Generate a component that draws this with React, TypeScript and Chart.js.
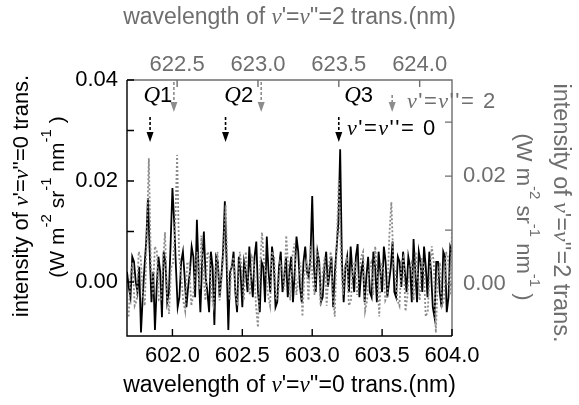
import React, { useEffect, useRef } from 'react';
import { Chart, registerables } from 'chart.js';
Chart.register(...registerables);

// v'=v''=0 transition (black, bottom/left axes)
const wl0 = [
  601.675, 601.6875, 601.7, 601.7125, 601.725, 601.7375, 601.75, 601.7625, 601.775, 601.7875,
  601.8, 601.8125, 601.825, 601.8375, 601.85, 601.8625, 601.875, 601.8875, 601.9, 601.9125,
  601.925, 601.9375, 601.95, 601.9625, 601.975, 601.9875, 602.0, 602.0125, 602.025, 602.0375,
  602.05, 602.0625, 602.075, 602.0875, 602.1, 602.1125, 602.125, 602.1375, 602.15, 602.1625,
  602.175, 602.1875, 602.2, 602.2125, 602.225, 602.2375, 602.25, 602.2625, 602.275, 602.2875,
  602.3, 602.3125, 602.325, 602.3375, 602.35, 602.3625, 602.375, 602.3875, 602.4, 602.4125,
  602.425, 602.4375, 602.45, 602.4625, 602.475, 602.4875, 602.5, 602.5125, 602.525, 602.5375,
  602.55, 602.5625, 602.575, 602.5875, 602.6, 602.6125, 602.625, 602.6375, 602.65, 602.6625,
  602.675, 602.6875, 602.7, 602.7125, 602.725, 602.7375, 602.75, 602.7625, 602.775, 602.7875,
  602.8, 602.8125, 602.825, 602.8375, 602.85, 602.8625, 602.875, 602.8875, 602.9, 602.9125,
  602.925, 602.9375, 602.95, 602.9625, 602.975, 602.9875, 603.0, 603.0125, 603.025, 603.0375,
  603.05, 603.0625, 603.075, 603.0875, 603.1, 603.1125, 603.125, 603.1375, 603.15, 603.1625,
  603.175, 603.1875, 603.2, 603.2125, 603.225, 603.2375, 603.25, 603.2625, 603.275, 603.2875,
  603.3, 603.3125, 603.325, 603.3375, 603.35, 603.3625, 603.375, 603.3875, 603.4, 603.4125,
  603.425, 603.4375, 603.45, 603.4625, 603.475, 603.4875, 603.5, 603.5125, 603.525, 603.5375,
  603.55, 603.5625, 603.575, 603.5875, 603.6, 603.6125, 603.625, 603.6375, 603.65, 603.6625,
  603.675, 603.6875, 603.7, 603.7125, 603.725, 603.7375, 603.75, 603.7625, 603.775, 603.7875,
  603.8, 603.8125, 603.825, 603.8375, 603.85, 603.8625, 603.875, 603.8875, 603.9, 603.9125,
  603.925, 603.9375, 603.95, 603.9625, 603.975, 603.9875, 604.0,
];
const int0 = [
  0.002, -0.001, -0.003, 0.005, 0.004, 0.0, -0.002, 0.003, -0.010, -0.003,
  0.003, 0.008, 0.0166, 0.006, -0.004, 0.002, -0.0095, -0.001, 0.005, 0.002,
  -0.007, 0.006, 0.004, -0.004, -0.002, 0.008, 0.0186, 0.012, 0.003, -0.005,
  -0.003, 0.004, 0.006, 0.001, -0.005, -0.001, 0.002, 0.007, 0.005, -0.003,
  0.0123, 0.002, -0.006, 0.004, 0.010, 0.001, -0.002, -0.006, 0.006, 0.003,
  -0.0085, 0.005, 0.004, -0.003, 0.001, 0.006, 0.016, 0.004, -0.0095, 0.002,
  0.003, 0.006, -0.002, -0.006, 0.005, 0.002, -0.005, 0.004, 0.002, -0.002,
  0.007, 0.001, -0.003, 0.005, 0.008, -0.002, -0.006, 0.004, 0.003, -0.004,
  0.009, 0.002, -0.002, 0.007, 0.004, -0.005, -0.004, 0.003, 0.006, -0.002,
  0.001, 0.005, -0.003, 0.002, 0.005, -0.004, 0.002, 0.009, 0.006, -0.001,
  -0.004, 0.004, 0.007, 0.002, 0.001, 0.005, 0.017, 0.003, -0.002, 0.006,
  0.004, -0.004, -0.003, 0.003, 0.006, -0.001, 0.002, 0.005, -0.005, 0.002,
  0.007, 0.012, 0.0263, 0.004, -0.004, 0.003, 0.005, -0.002, 0.007, 0.002,
  -0.002, 0.005, 0.0075, -0.003, 0.002, 0.004, -0.004, 0.001, 0.005, -0.002,
  -0.003, 0.006, 0.003, -0.004, 0.006, 0.002, -0.002, 0.007, 0.004, -0.003,
  0.0, 0.003, 0.008, -0.002, -0.003, 0.005, 0.004, -0.001, 0.006, 0.002,
  -0.002, 0.005, 0.003, -0.004, 0.0085, 0.002, -0.004, 0.006, 0.004, -0.002,
  0.007, 0.003, -0.003, 0.006, 0.002, -0.005, -0.007, 0.004, 0.004, -0.002,
  -0.005, 0.006, 0.005, -0.006, -0.003, 0.007, 0.006,
];

// v'=v''=2 transition (gray dotted, top/right axes)
const wl2 = [
  622.2, 622.2125, 622.225, 622.2375, 622.25, 622.2625, 622.275, 622.2875, 622.3, 622.3125,
  622.325, 622.3375, 622.35, 622.3625, 622.375, 622.3875, 622.4, 622.4125, 622.425, 622.4375,
  622.45, 622.4625, 622.475, 622.4875, 622.5, 622.5125, 622.525, 622.5375, 622.55, 622.5625,
  622.575, 622.5875, 622.6, 622.6125, 622.625, 622.6375, 622.65, 622.6625, 622.675, 622.6875,
  622.7, 622.7125, 622.725, 622.7375, 622.75, 622.7625, 622.775, 622.7875, 622.8, 622.8125,
  622.825, 622.8375, 622.85, 622.8625, 622.875, 622.8875, 622.9, 622.9125, 622.925, 622.9375,
  622.95, 622.9625, 622.975, 622.9875, 623.0, 623.0125, 623.025, 623.0375, 623.05, 623.0625,
  623.075, 623.0875, 623.1, 623.1125, 623.125, 623.1375, 623.15, 623.1625, 623.175, 623.1875,
  623.2, 623.2125, 623.225, 623.2375, 623.25, 623.2625, 623.275, 623.2875, 623.3, 623.3125,
  623.325, 623.3375, 623.35, 623.3625, 623.375, 623.3875, 623.4, 623.4125, 623.425, 623.4375,
  623.45, 623.4625, 623.475, 623.4875, 623.5, 623.5125, 623.525, 623.5375, 623.55, 623.5625,
  623.575, 623.5875, 623.6, 623.6125, 623.625, 623.6375, 623.65, 623.6625, 623.675, 623.6875,
  623.7, 623.7125, 623.725, 623.7375, 623.75, 623.7625, 623.775, 623.7875, 623.8, 623.8125,
  623.825, 623.8375, 623.85, 623.8625, 623.875, 623.8875, 623.9, 623.9125, 623.925, 623.9375,
  623.95, 623.9625, 623.975, 623.9875, 624.0, 624.0125, 624.025, 624.0375, 624.05, 624.0625,
  624.075, 624.0875, 624.1, 624.1125, 624.125, 624.1375, 624.15, 624.1625, 624.175, 624.1875,
  624.2,
];
const int2 = [
  -0.006, 0.002, 0.004, -0.004, -0.003, 0.006, 0.005, -0.002, -0.004, 0.009,
  0.0233, 0.004, -0.002, 0.007, 0.006, -0.003, -0.003, 0.004, 0.0096, -0.002,
  -0.0055, 0.003, 0.004, 0.010, 0.0239, 0.005, 0.002, -0.003, -0.005, 0.004,
  0.004, -0.004, -0.002, 0.003, 0.006, -0.001, 0.009, 0.002, -0.003, 0.006,
  0.005, -0.002, -0.004, 0.003, 0.006, -0.003, 0.001, 0.006, 0.0146, 0.002,
  -0.003, 0.004, 0.005, -0.002, -0.004, 0.006, 0.003, -0.003, 0.006, 0.001,
  -0.002, 0.005, 0.004, -0.004, -0.008, 0.003, 0.0096, 0.004, 0.002, -0.002,
  -0.004, 0.006, 0.005, -0.003, -0.002, 0.004, 0.003, -0.001, 0.009, 0.003,
  -0.003, 0.005, 0.0075, -0.002, 0.001, 0.004, -0.006, 0.002, 0.004, -0.003,
  0.007, 0.001, -0.002, 0.006, 0.005, -0.004, 0.002, 0.005, -0.004, 0.003,
  0.006, -0.002, -0.006, 0.008, 0.0193, 0.006, -0.002, 0.003, 0.005, -0.004,
  -0.003, 0.004, 0.004, -0.002, 0.001, 0.005, 0.006, -0.005, -0.003, 0.003,
  0.004, -0.002, 0.007, 0.002, -0.006, 0.004, 0.003, -0.003, -0.002, 0.009,
  0.0152, 0.004, 0.002, -0.003, -0.004, 0.004, 0.005, -0.005, -0.002, 0.003,
  0.004, -0.003, 0.006, 0.002, -0.003, 0.005, 0.003, -0.006, -0.005, 0.002,
  0.007, 0.004, -0.009, 0.001, 0.004, -0.004, -0.003, 0.006, 0.005, -0.002,
  0.0096,
];

const bottomTicks = [602.0, 602.5, 603.0, 603.5, 604.0];
const topTicks = [622.5, 623.0, 623.5, 624.0];
const leftMajor = [0, 0.02, 0.04];
const leftMinor = [0.01, 0.03];
const rightMajor = [0, 0.02];
const rightMinor = [0.01, 0.03];

const qNames = ['1', '2', '3'];
const qLabelPos0 = [601.793, 602.371, 603.229];
const qArrow0 = [601.84, 602.38, 603.19];
const qArrow2 = [622.48, 623.02, 623.83];

const SANS = "'Liberation Sans', Arial, sans-serif";
const SERIF = "'Liberation Serif', 'Times New Roman', serif";
const GRAY_TXT = '#6e6e6e';
const GRAY_LINE = '#8c8c8c';

type Seg = { t: string; f: string; dy?: number };

function richWidth(ctx: CanvasRenderingContext2D, segs: Seg[]) {
  let w = 0;
  for (const s of segs) {
    ctx.font = s.f;
    w += ctx.measureText(s.t).width;
  }
  return w;
}

function drawRich(
  ctx: CanvasRenderingContext2D,
  segs: Seg[],
  x: number,
  y: number,
  rot: number,
  color: string,
  align: 'center' | 'left',
  spacing = 0
) {
  ctx.save();
  ctx.translate(x, y);
  ctx.rotate(rot);
  ctx.fillStyle = color;
  ctx.textBaseline = 'middle';
  ctx.textAlign = 'left';
  (ctx as any).letterSpacing = spacing + 'px';
  const w = richWidth(ctx, segs);
  let cx = align === 'center' ? -w / 2 : 0;
  for (const s of segs) {
    ctx.font = s.f;
    ctx.fillText(s.t, cx, s.dy || 0);
    cx += ctx.measureText(s.t).width;
  }
  ctx.restore();
}

function drawArrow(ctx: CanvasRenderingContext2D, x: number, y0: number, y1: number, color: string) {
  ctx.save();
  ctx.strokeStyle = color;
  ctx.fillStyle = color;
  ctx.lineWidth = 1.6;
  ctx.setLineDash([3, 2]);
  ctx.beginPath();
  ctx.moveTo(x, y0);
  ctx.lineTo(x, y1 - 9);
  ctx.stroke();
  ctx.setLineDash([]);
  ctx.beginPath();
  ctx.moveTo(x - 3.5, y1 - 10);
  ctx.lineTo(x + 3.5, y1 - 10);
  ctx.lineTo(x, y1);
  ctx.closePath();
  ctx.fill();
  ctx.restore();
}

const decorPlugin = {
  id: 'decor',
  afterDatasetsDraw(chart: any) {
    const ctx: CanvasRenderingContext2D = chart.ctx;
    const { left, right, top, bottom } = chart.chartArea;
    const sx = chart.scales.x;
    const sx2 = chart.scales.x2;
    const sy = chart.scales.y;
    const sy2 = chart.scales.y2;
    ctx.save();
    // frame
    ctx.lineWidth = 1.4;
    ctx.strokeStyle = GRAY_TXT;
    ctx.beginPath();
    ctx.moveTo(left, top);
    ctx.lineTo(right, top);
    ctx.lineTo(right, bottom);
    ctx.stroke();
    ctx.strokeStyle = '#000';
    ctx.beginPath();
    ctx.moveTo(left, top);
    ctx.lineTo(left, bottom);
    ctx.lineTo(right, bottom);
    ctx.stroke();
    // inward ticks
    const TL = 7;
    ctx.strokeStyle = '#000';
    ctx.beginPath();
    for (const v of bottomTicks) {
      const x = sx.getPixelForValue(v);
      ctx.moveTo(x, bottom);
      ctx.lineTo(x, bottom - TL);
    }
    for (const v of [...leftMajor, ...leftMinor]) {
      const y = sy.getPixelForValue(v);
      ctx.moveTo(left, y);
      ctx.lineTo(left + TL, y);
    }
    ctx.stroke();
    ctx.strokeStyle = GRAY_TXT;
    ctx.beginPath();
    for (const v of topTicks) {
      const x = sx2.getPixelForValue(v);
      ctx.moveTo(x, top);
      ctx.lineTo(x, top + TL);
    }
    for (const v of [...rightMajor, ...rightMinor]) {
      const y = sy2.getPixelForValue(v);
      ctx.moveTo(right, y);
      ctx.lineTo(right - TL, y);
    }
    ctx.stroke();

    // arrows
    qArrow0.forEach((v) => drawArrow(ctx, sx.getPixelForValue(v), top + 37, top + 62, '#000'));
    qArrow2.forEach((v, i) => drawArrow(ctx, sx2.getPixelForValue(v), top + (i === 2 ? 15 : 2), top + 32, GRAY_LINE));

    // Q labels
    qNames.forEach((n, i) => {
      const x = sx.getPixelForValue(qLabelPos0[i]);
      drawRich(ctx, [
        { t: 'Q', f: `italic 23px ${SERIF}` },
        { t: n, f: `22px ${SANS}` },
      ], x, top + 16, 0, '#000', 'left');
    });

    const vi = `italic 22px ${SERIF}`;
    const s22 = `22px ${SANS}`;
    drawRich(ctx, [
      { t: 'v', f: vi }, { t: "'=", f: s22 }, { t: 'v', f: vi }, { t: "''= 0", f: s22 },
    ], 347, top + 49, 0, '#000', 'left', 1.5);
    drawRich(ctx, [
      { t: 'v', f: vi }, { t: "'=", f: s22 }, { t: 'v', f: vi }, { t: "''= 2", f: s22 },
    ], 407, top + 22, 0, GRAY_TXT, 'left', 1.5);
    ctx.restore();
  },
  afterDraw(chart: any) {
    const ctx: CanvasRenderingContext2D = chart.ctx;
    const { left, right, bottom } = chart.chartArea;
    const cx = (left + right) / 2;
    const f = `23px ${SANS}`;
    const fi = `italic 23px ${SERIF}`;
    // bottom title
    drawRich(ctx, [
      { t: 'wavelength of ', f }, { t: 'v', f: fi }, { t: "'=", f }, { t: 'v', f: fi }, { t: "''=0 trans.(nm)", f },
    ], cx, bottom + 50, 0, '#000', 'center');
    // top title
    drawRich(ctx, [
      { t: 'wavelength of ', f }, { t: 'v', f: fi }, { t: "'=", f }, { t: 'v', f: fi }, { t: "''=2 trans.(nm)", f },
    ], cx, 18, 0, GRAY_TXT, 'center');
    // left title
    const fl = `22px ${SANS}`;
    const fli = `italic 22px ${SERIF}`;
    drawRich(ctx, [
      { t: 'intensity of ', f: fl }, { t: 'v', f: fli }, { t: "'=", f: fl }, { t: 'v', f: fli }, { t: "''=0 trans.", f: fl },
    ], 22, 196, -Math.PI / 2, '#000', 'center');
    const fu = `21px ${SANS}`;
    const fs = `15px ${SANS}`;
    const unitSegs: Seg[] = [
      { t: '(W m', f: fu }, { t: '-2', f: fs, dy: -11 }, { t: ' sr', f: fu }, { t: '-1', f: fs, dy: -11 },
      { t: ' nm', f: fu }, { t: '-1', f: fs, dy: -11 }, { t: ' )', f: fu },
    ];
    drawRich(ctx, unitSegs, 58, 197, -Math.PI / 2, '#000', 'center');
    // right title
    const fr = `23.5px ${SANS}`;
    const fri = `italic 23.5px ${SERIF}`;
    drawRich(ctx, [
      { t: 'intensity of ', f: fr }, { t: 'v', f: fri }, { t: "'=", f: fr }, { t: 'v', f: fri }, { t: "''=2 trans.", f: fr },
    ], 560, 213, Math.PI / 2, GRAY_TXT, 'center');
    const fu2 = `22px ${SANS}`;
    const unitSegs2: Seg[] = [
      { t: '(W m', f: fu2 }, { t: '-2', f: fs, dy: -11 }, { t: ' sr', f: fu2 }, { t: '-1', f: fs, dy: -11 },
      { t: ' nm', f: fu2 }, { t: '-1', f: fs, dy: -11 }, { t: ' )', f: fu2 },
    ];
    drawRich(ctx, unitSegs2, 523, 217, Math.PI / 2, GRAY_TXT, 'center');
  },
};

export default function App() {
  const ref = useRef<HTMLCanvasElement>(null);
  useEffect(() => {
    if (!ref.current) return;
    const tickFont = { family: SANS, size: 22 };
    const chart = new Chart(ref.current, {
      type: 'line',
      data: {
        datasets: [
          {
            label: "v'=v''=2",
            data: wl2.map((x, i) => ({ x, y: int2[i] })),
            xAxisID: 'x2',
            yAxisID: 'y2',
            borderColor: GRAY_LINE,
            borderWidth: 1.8,
            borderDash: [2, 2],
            pointRadius: 0,
            tension: 0,
            fill: false,
          },
          {
            label: "v'=v''=0",
            data: wl0.map((x, i) => ({ x, y: int0[i] })),
            xAxisID: 'x',
            yAxisID: 'y',
            borderColor: '#000',
            borderWidth: 1.8,
            pointRadius: 0,
            tension: 0,
            fill: false,
          },
        ],
      },
      options: {
        animation: false,
        responsive: false,
        layout: { padding: 0 },
        plugins: { legend: { display: false }, tooltip: { enabled: false } },
        scales: {
          x: {
            type: 'linear',
            position: 'bottom',
            min: 601.675,
            max: 604.0,
            grid: { display: false, drawTicks: false },
            border: { display: false },
            afterBuildTicks: (s: any) => { s.ticks = bottomTicks.map((value) => ({ value })); },
            afterFit: (s: any) => { s.height = 69; },
            ticks: { font: tickFont, color: '#000', padding: 7, maxRotation: 0, autoSkip: false, callback: (v: any) => Number(v).toFixed(1) },
          },
          x2: {
            type: 'linear',
            position: 'top',
            min: 622.19,
            max: 624.2,
            grid: { display: false, drawTicks: false },
            border: { display: false },
            afterBuildTicks: (s: any) => { s.ticks = topTicks.map((value) => ({ value })); },
            afterFit: (s: any) => { s.height = 80; },
            ticks: { font: tickFont, color: GRAY_TXT, padding: 2, maxRotation: 0, autoSkip: false, callback: (v: any) => Number(v).toFixed(1) },
          },
          y: {
            type: 'linear',
            position: 'left',
            min: -0.0107,
            max: 0.04,
            grid: { display: false, drawTicks: false },
            border: { display: false },
            afterBuildTicks: (s: any) => { s.ticks = leftMajor.map((value) => ({ value })); },
            afterFit: (s: any) => { s.width = 127; },
            ticks: { font: tickFont, color: '#000', padding: 9, autoSkip: false, callback: (v: any) => Number(v).toFixed(2) },
          },
          y2: {
            type: 'linear',
            position: 'right',
            min: -0.0096,
            max: 0.0378,
            grid: { display: false, drawTicks: false },
            border: { display: false },
            afterBuildTicks: (s: any) => { s.ticks = rightMajor.map((value) => ({ value })); },
            afterFit: (s: any) => { s.width = 127; },
            ticks: { font: tickFont, color: GRAY_TXT, padding: 11, autoSkip: false, callback: (v: any) => Number(v).toFixed(2) },
          },
        },
      } as any,
      plugins: [decorPlugin],
    });
    return () => chart.destroy();
  }, []);
  return (
    <div style={{ position: 'fixed', left: 0, top: 0, width: 579, height: 405, background: '#fff' }}>
      <canvas ref={ref} width={579} height={405} style={{ width: 579, height: 405, display: 'block' }} />
    </div>
  );
}
